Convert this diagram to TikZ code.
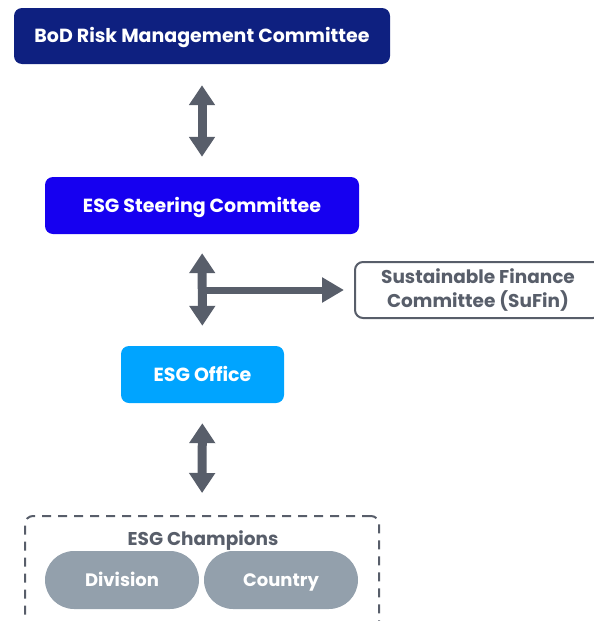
\documentclass[tikz,border=0pt]{standalone}
\usepackage{fontspec}
\setmainfont{Poppins}
\usetikzlibrary{arrows.meta,shapes}

\definecolor{bodblue}{RGB}{14,32,128}
\definecolor{steerblue}{RGB}{22,0,240}
\definecolor{officeblue}{RGB}{0,164,255}
\definecolor{champgray}{RGB}{147,160,172}
\definecolor{linkgray}{RGB}{88,94,106}

\begin{document}
\begin{tikzpicture}[x=1pt,y=1pt,
  box/.style={rounded corners=8pt,text=white,font=\fontsize{19}{22}\selectfont\bfseries,minimum height=56pt,text height=1.5em,text depth=0.2em},
  pill/.style={fill=champgray,rounded corners=29pt,minimum width=154pt,minimum height=58pt,text=white,font=\fontsize{18}{21}\selectfont\bfseries,text height=1.45em,text depth=0.2em},
  link/.style={draw=linkgray,line width=9pt,{Triangle[width=25pt,length=20pt]}-{Triangle[width=25pt,length=20pt]}},
  side/.style={draw=linkgray,line width=7pt,-{Triangle[width=24pt,length=22pt]}}]
\useasboundingbox (0,0) rectangle (594,-621);
\node (BoD) at (202,-36) [box,fill=bodblue,minimum width=376pt] {BoD Risk Management Committee};
\node (Steer) at (202,-205.5) [box,fill=steerblue,minimum width=314pt,minimum height=57pt] {ESG Steering Committee};
\node (Office) at (202.5,-374.5) [box,fill=officeblue,minimum width=163pt,minimum height=57pt] {ESG Office};
\node (SuFin) at (478,-290) [draw=linkgray,line width=2pt,rounded corners=8pt,minimum width=246pt,minimum height=56pt,align=center,text=linkgray,font=\fontsize{18.5}{24}\selectfont\bfseries] {Sustainable Finance\\Committee (SuFin)};
\node (Champ) at (202,-576) [draw=linkgray,line width=2pt,dashed,dash pattern=on 9pt off 7pt,rounded corners=8pt,minimum width=354pt,minimum height=120pt] {};
\node (ChampLbl) at (203,-541) [text=linkgray,font=\fontsize{18.5}{21}\selectfont\bfseries] {ESG Champions};
\node (Div) at (122,-580) [pill] {Division};
\node (Ctry) at (281,-580) [pill] {Country};
\coordinate (Fork) at (203,-290);
\draw [link,shorten <=21pt,shorten >=20pt] (BoD) -- (Steer);
\draw [link,shorten <=19pt,shorten >=20pt] (Steer) -- (Office);
\draw [link,shorten <=20pt,shorten >=22pt] (Office) -- (Champ.north);
\draw [side,shorten >=10pt] (Fork) -- (SuFin);
\end{tikzpicture}
\end{document}
